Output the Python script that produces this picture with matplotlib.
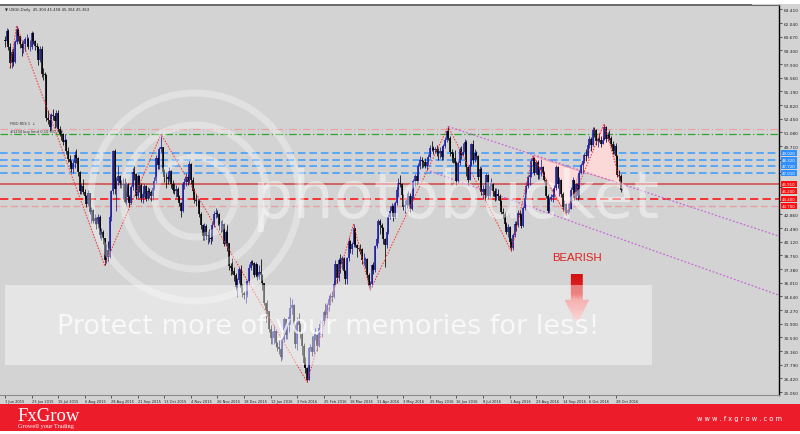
import numpy as np
import pandas as pd
import matplotlib
matplotlib.use("Agg")
import matplotlib.pyplot as plt
from matplotlib.patches import Rectangle, Circle, Polygon
from matplotlib.colors import LinearSegmentedColormap
import matplotlib.transforms as mtransforms

# USOil daily candles, 1 Jun 2015 .. 3 Nov 2016 (feed has a bar for every weekday except 1 Jan 2016)
first_open = 60.30
closes = [
    60.20, 61.26, 59.64, 58.00, 59.13, 58.14, 60.14, 61.43, 60.77, 59.96, 59.52, 59.97, 60.45, 60.45, 59.61, 59.68, 61.01, 60.27, 59.70, 59.63, 58.33, 59.47,
    56.96, 56.93, 56.80, 52.53, 52.33, 51.65, 52.78, 52.74, 52.20, 53.04, 51.41, 50.91, 50.89, 50.15, 50.36, 49.19, 48.45, 48.14, 47.39, 47.98, 48.79, 48.52, 47.12,
    45.17, 45.74, 45.15, 44.66, 43.87, 44.96, 43.08, 43.30, 42.23, 42.50, 41.87, 42.62, 40.80, 41.14, 40.45, 38.24, 39.31, 38.60, 42.56, 45.22, 49.20,
    45.41, 46.25, 46.75, 46.05, 45.80, 45.94, 44.15, 45.92, 44.63, 44.00, 45.59, 47.15, 46.90, 44.68, 46.68, 45.83, 44.48, 44.91, 45.70, 44.43, 45.23, 45.09,
    44.74, 45.54, 46.26, 48.53, 47.81, 49.43, 49.63, 47.10, 46.66, 46.64, 46.38, 47.26, 45.89, 45.29, 45.20, 45.38, 44.60, 43.98, 43.20, 45.94, 46.06, 46.59,
    46.14, 47.90, 46.32, 45.20, 44.29, 44.21, 44.21, 42.93, 41.75, 40.74, 41.74, 40.67, 40.75, 40.54, 40.39, 41.75, 42.87, 43.04, 42.90, 41.71, 41.65,
    41.85, 39.94, 41.08, 39.97, 37.65, 37.51, 37.16, 36.76, 35.62, 36.31, 37.35, 35.52, 34.95, 34.73, 34.74, 36.14, 37.50, 38.10, 38.00, 36.81, 37.87, 36.60, 37.04,
    36.76, 35.97, 33.97, 33.27, 33.16, 31.41, 30.44, 30.48, 31.20, 30.00, 29.60, 29.40, 28.60, 30.30, 32.40, 30.80, 31.80, 32.60, 33.50, 33.80,
    31.62, 29.88, 32.28, 31.72, 30.89, 29.69, 27.94, 27.45, 26.21, 29.44, 29.60, 29.04, 30.66, 30.77, 29.64, 31.48, 31.87, 32.15, 33.07, 32.78, 33.75,
    34.40, 34.66, 34.57, 35.92, 37.90, 36.50, 38.29, 37.84, 38.50, 37.18, 36.34, 38.46, 40.20, 39.44, 39.91, 41.45, 39.79, 39.46, 39.40, 39.39, 38.28, 38.32, 38.34,
    36.79, 35.70, 35.89, 37.75, 37.26, 39.72, 40.36, 42.17, 41.76, 41.50, 40.36, 39.78, 41.08, 42.63, 43.18, 43.73, 42.64, 44.04, 45.33, 46.03, 45.92,
    44.78, 43.65, 43.78, 44.32, 44.66, 43.44, 44.66, 46.23, 46.70, 46.21, 47.72, 48.31, 48.19, 48.16, 47.75, 48.08, 48.62, 49.56, 49.48, 49.33, 49.40, 49.10,
    49.01, 49.17, 48.62, 49.69, 50.36, 51.23, 50.56, 49.07, 48.88, 48.49, 48.01, 46.21, 47.98, 49.37, 48.85, 49.13, 50.11, 47.64, 46.33, 47.85, 49.88, 48.33,
    48.99, 48.70, 46.60, 47.43, 45.14, 45.41, 44.76, 46.80, 44.75, 45.68, 45.95, 45.24, 44.65, 44.94, 44.75, 44.19, 43.13, 42.92, 41.92, 41.14, 41.60,
    40.06, 39.51, 40.83, 41.93, 41.80, 43.02, 42.77, 41.71, 43.49, 44.49, 45.74, 46.58, 46.79, 48.22, 48.52, 47.05, 48.10, 46.77, 47.33, 47.64, 46.98, 46.35, 44.70,
    43.16, 44.44, 44.60, 44.83, 45.50, 47.62, 45.88, 46.29, 44.90, 43.58, 43.91, 43.03, 43.30, 43.44, 45.34, 46.32, 44.48, 45.93, 44.67, 47.05, 47.83, 48.24,
    48.81, 48.69, 49.83, 50.44, 49.81, 51.35, 51.29, 50.18, 50.44, 50.35, 49.94, 50.29, 51.60, 50.43, 50.85, 50.52, 49.96, 49.18, 49.72, 48.70, 46.86,
    46.67, 45.34, 45.36,
]
highs = [
    60.75, 61.6, 61.5, 60.0, 59.4, 59.5, 60.4, 61.8, 61.6, 60.8, 60.2, 60.3, 60.7, 61.0, 60.7, 60.4, 61.3, 61.2, 60.4, 60.0, 59.7, 59.7,
    59.7, 57.5, 57.1, 56.9, 53.3, 52.9, 53.0, 53.4, 52.9, 53.3, 53.3, 51.7, 51.3, 51.0, 50.9, 50.4, 49.6, 48.8, 48.3, 48.3, 49.2, 49.4, 48.6,
    47.2, 46.0, 46.4, 45.4, 44.8, 45.3, 45.0, 43.6, 43.4, 42.9, 42.6, 42.9, 42.8, 41.5, 41.3, 40.5, 39.9, 40.2, 42.8, 45.3, 49.3,
    49.4, 46.6, 47.7, 46.8, 46.3, 46.5, 46.5, 46.1, 46.0, 44.8, 45.8, 47.5, 47.7, 47.0, 46.9, 46.8, 46.0, 45.2, 45.9, 45.8, 45.6, 45.5,
    45.3, 45.7, 46.6, 48.8, 49.2, 49.6, 50.9, 49.6, 47.4, 47.0, 46.8, 47.6, 47.3, 46.3, 46.0, 45.8, 45.6, 44.8, 44.1, 46.1, 46.5, 47.0,
    46.9, 48.2, 48.0, 46.6, 45.5, 44.9, 44.5, 44.4, 43.1, 41.9, 42.0, 41.9, 41.2, 41.4, 41.0, 42.1, 43.2, 43.5, 43.3, 43.0, 42.2,
    42.3, 42.0, 41.3, 41.9, 40.0, 38.0, 38.5, 37.6, 37.0, 36.5, 37.6, 37.8, 35.9, 35.2, 35.2, 36.3, 37.9, 38.3, 38.3, 38.1, 38.1, 37.9, 37.8,
    38.4, 36.9, 36.0, 34.0, 34.3, 33.2, 31.8, 31.2, 31.8, 31.3, 30.1, 30.3, 29.5, 30.6, 32.6, 32.4, 32.1, 32.9, 34.6, 34.4,
    33.9, 31.9, 32.6, 33.0, 32.0, 31.2, 30.0, 28.6, 27.6, 29.5, 29.9, 30.7, 31.0, 31.5, 30.9, 31.6, 32.4, 32.4, 33.3, 34.0, 34.0,
    34.8, 35.0, 35.2, 36.2, 38.3, 37.9, 38.5, 38.9, 38.7, 38.6, 37.3, 38.6, 40.6, 40.3, 40.1, 41.9, 41.5, 39.9, 39.6, 39.9, 39.5, 39.0, 38.6,
    38.5, 37.0, 36.2, 37.9, 38.1, 39.8, 40.6, 42.4, 42.4, 42.0, 41.6, 40.5, 41.4, 42.9, 43.7, 44.0, 43.8, 44.2, 45.5, 46.5, 46.8,
    46.0, 44.9, 44.3, 45.0, 45.2, 45.0, 44.8, 46.4, 46.9, 47.0, 48.0, 48.7, 48.6, 48.3, 48.5, 48.2, 48.9, 49.8, 50.2, 49.7, 49.6, 49.8,
    49.5, 49.6, 49.7, 49.9, 50.6, 51.3, 51.67, 50.7, 49.4, 49.1, 49.3, 48.2, 48.2, 49.6, 49.7, 50.0, 50.4, 50.3, 47.7, 48.1, 50.0, 50.3,
    49.4, 49.2, 48.8, 47.7, 47.6, 45.8, 45.6, 47.0, 46.9, 46.1, 46.5, 46.0, 45.5, 45.5, 45.4, 44.9, 44.3, 43.5, 43.1, 42.1, 41.9,
    41.7, 40.5, 41.0, 42.2, 42.2, 43.3, 43.3, 43.0, 43.7, 44.7, 46.0, 46.8, 47.1, 48.5, 48.75, 48.6, 48.3, 48.3, 47.6, 48.4, 47.7, 47.2, 46.4,
    44.9, 44.6, 44.9, 45.5, 45.8, 47.8, 47.7, 46.6, 46.4, 45.1, 44.3, 44.0, 44.0, 44.0, 45.6, 46.6, 46.3, 46.0, 46.0, 47.3, 48.0, 48.3,
    49.0, 49.4, 50.0, 50.7, 50.6, 51.6, 51.6, 51.4, 50.6, 51.0, 50.7, 50.7, 51.93, 51.7, 51.1, 51.3, 50.7, 50.2, 49.9, 50.0, 48.8,
    47.3, 46.9, 45.46,
]
lows = [
    59.6, 59.9, 59.3, 57.5, 57.5, 57.7, 58.0, 59.9, 60.2, 59.5, 58.7, 59.0, 59.2, 59.8, 59.4, 59.2, 59.4, 59.9, 59.3, 59.0, 57.8, 58.1,
    56.6, 56.3, 56.4, 52.2, 51.9, 51.2, 51.3, 52.3, 51.5, 51.6, 51.2, 50.7, 50.3, 49.8, 49.9, 48.9, 48.1, 47.8, 47.1, 47.0, 47.5, 48.0, 46.7,
    44.9, 44.9, 44.9, 44.4, 43.6, 43.7, 42.9, 42.0, 42.0, 41.9, 41.4, 41.5, 40.5, 40.3, 39.9, 37.75, 38.0, 38.2, 38.5, 42.2, 44.9,
    44.9, 43.2, 45.8, 45.5, 45.5, 44.4, 44.0, 43.8, 44.2, 43.6, 43.9, 45.3, 46.3, 44.4, 44.5, 45.1, 44.1, 44.0, 44.6, 44.2, 44.3, 44.5,
    44.2, 44.3, 45.3, 46.0, 47.4, 47.4, 49.1, 46.8, 46.1, 45.5, 45.9, 46.2, 45.5, 45.0, 44.9, 44.6, 44.3, 43.7, 42.6, 43.1, 45.4, 45.7,
    45.8, 46.0, 45.9, 44.9, 44.0, 43.7, 43.6, 42.6, 41.4, 40.3, 40.3, 40.4, 39.9, 40.1, 39.9, 40.2, 41.6, 42.5, 42.6, 41.3, 41.1,
    41.2, 39.7, 39.7, 39.2, 37.3, 36.8, 36.9, 36.2, 35.3, 34.6, 36.0, 35.3, 34.6, 34.4, 33.98, 34.6, 36.0, 37.3, 37.8, 36.6, 36.6, 36.3, 36.4,
    36.3, 35.3, 33.8, 32.1, 32.7, 31.1, 29.9, 29.9, 29.9, 29.6, 29.2, 28.9, 28.2, 28.4, 30.1, 30.4, 30.4, 31.1, 31.9, 32.9,
    31.3, 29.5, 29.3, 31.2, 30.5, 28.8, 27.6, 27.0, 26.05, 26.4, 29.2, 28.7, 28.9, 30.3, 29.2, 29.6, 30.9, 30.6, 31.9, 32.5, 32.5,
    33.2, 33.8, 34.1, 34.5, 35.8, 36.0, 36.2, 37.0, 37.4, 36.9, 35.9, 35.9, 38.2, 39.0, 38.9, 39.6, 39.6, 38.6, 39.2, 38.9, 37.9, 37.8, 37.5,
    36.5, 35.5, 35.24, 35.6, 36.9, 37.1, 39.5, 40.0, 40.9, 41.0, 39.9, 37.6, 39.5, 40.9, 42.4, 42.8, 42.2, 42.5, 43.8, 44.6, 45.6,
    44.5, 43.3, 43.0, 43.5, 43.8, 43.1, 43.3, 44.5, 45.7, 45.8, 46.0, 47.4, 47.5, 47.6, 47.5, 47.3, 47.8, 48.5, 49.2, 48.9, 49.0, 48.7,
    48.3, 48.5, 48.3, 48.3, 49.5, 50.1, 50.3, 48.7, 48.1, 48.0, 47.8, 45.8, 46.0, 47.8, 48.4, 48.7, 48.9, 46.7, 45.8, 46.3, 47.7, 47.9,
    48.1, 48.4, 46.3, 45.8, 44.8, 44.4, 44.3, 44.6, 44.4, 44.6, 45.3, 44.7, 44.2, 44.3, 44.3, 43.8, 42.9, 42.5, 41.6, 40.9, 40.6,
    39.9, 39.19, 39.3, 40.6, 41.2, 41.6, 42.3, 41.5, 41.6, 43.3, 44.4, 45.5, 45.8, 46.6, 47.8, 46.8, 46.9, 46.4, 46.4, 46.7, 46.6, 46.1, 44.5,
    43.0, 43.0, 44.2, 44.1, 44.6, 45.3, 45.5, 44.7, 44.6, 43.2, 43.3, 42.8, 42.9, 43.1, 43.4, 45.2, 44.3, 44.3, 44.3, 44.5, 46.9, 47.0,
    48.0, 48.2, 48.5, 49.5, 49.2, 49.7, 50.6, 49.8, 49.6, 50.1, 49.6, 49.9, 50.3, 50.1, 50.2, 50.3, 49.6, 48.9, 48.9, 48.4, 46.6,
    46.2, 45.1, 45.30,
]

x_labels = ["1 Jun 2015", "23 Jun 2015", "15 Jul 2015", "6 Aug 2015", "28 Aug 2015", "21 Sep 2015",
            "13 Oct 2015", "4 Nov 2015", "26 Nov 2015", "18 Dec 2015", "12 Jan 2016", "3 Feb 2016",
            "25 Feb 2016", "18 Mar 2016", "11 Apr 2016", "3 May 2016", "25 May 2016", "16 Jun 2016",
            "8 Jul 2016", "1 Aug 2016", "23 Aug 2016", "14 Sep 2016", "6 Oct 2016", "28 Oct 2016"]
y_ticks = [25.05, 26.42, 27.79, 29.16, 30.53, 31.90, 33.27, 34.64, 36.01, 37.38, 38.75, 40.12, 41.49,
           42.86, 44.23, 45.60, 46.97, 48.34, 49.71, 51.08, 52.45, 53.82, 55.19, 56.56, 57.93, 59.30,
           60.67, 62.04, 63.41]

# zigzag pivots (bar index, 'H' = high / 'L' = low / 'C' = close)
zz_bars = [3, 7, 60, 94, 182, 210, 220, 267, 305, 318, 338, 361, 372]
zz_kind = ["L", "H", "L", "H", "L", "H", "L", "H", "L", "H", "L", "H", "C"]

# harmonic pattern points
pat_bars = [318, 338, 346, 361, 372]
pat_prices = [48.75, 42.8, 47.2, 51.93, 45.9]

# trend lines
trend_up_bars, trend_up_prices = [267, 466], [51.67, 40.69]
trend_lo_bars, trend_lo_prices = [256, 466], [47.2, 34.78]

# horizontal levels
fibo_prices = [51.43, 50.92]
blue_levels = [49.02, 48.32, 47.72, 47.01]
red_levels = [45.91, 45.20, 44.40, 43.70]
red_solid = 45.91
red_dash = 44.40
pink_dash = 43.70

bear_bar, bear_text_price = 344.5, 38.6
arrow_top, arrow_neck, arrow_tip = 36.9, 34.3, 31.8

BG = "#d3d3d3"
BULL = "#1c1c9c"
BEAR = "#000000"

dates = pd.bdate_range("2015-06-01", "2016-11-03")
dates = dates[dates != pd.Timestamp("2016-01-01")]

o = np.array([first_open] + closes[:-1])
c = np.array(closes)
h = np.maximum(np.array(highs), np.maximum(o, c))
l = np.minimum(np.array(lows), np.minimum(o, c))
xs = np.arange(len(c))

fig = plt.figure(figsize=(8, 4.35), dpi=100)
fig.patch.set_facecolor(BG)
ax = fig.add_axes([0, 39 / 435, 779 / 800, 390 / 435])
ax.set_facecolor(BG)
ax.set_zorder(1)

# horizontal levels
ax.axhline(fibo_prices[0], color="#e6a4a8", lw=0.9, ls=(0, (6, 2, 1, 2)), zorder=1)
ax.axhline(fibo_prices[1], color="#2ca52c", lw=0.9, ls=(0, (6, 2, 1, 2)), zorder=1)
for p in blue_levels:
    ax.axhline(p, color="#3a9bff", lw=1.1, ls=(0, (5, 2.5)), zorder=1)
ax.axhline(red_solid, color="#cf6262", lw=1.4, zorder=1)
ax.axhline(red_dash, color="#ff1818", lw=1.2, ls=(0, (5, 2.5)), zorder=1)
ax.axhline(pink_dash, color="#e7a0a0", lw=1.0, ls=(0, (5, 2.5)), zorder=1)
ax.text(3, fibo_prices[0] + 0.35, "FIBO RES 1  \u2193", fontsize=2.6, color="#333333", va="bottom")
ax.text(3, fibo_prices[1] + 0.1, "#1234 buy limit 0.10 (50.92)", fontsize=2.6, color="#333333", va="bottom")

# harmonic pattern fills
tri1 = [(pat_bars[i], pat_prices[i]) for i in (0, 1, 2)]
tri2 = [(pat_bars[i], pat_prices[i]) for i in (2, 3, 4)]
for tri in (tri1, tri2):
    ax.add_patch(Polygon(tri, closed=True, fc="#fbd9d9", ec="#f0a0a0", lw=0.6, zorder=1.5))

# trend lines
ax.plot(trend_up_bars, trend_up_prices, color="#c86ad8", lw=0.9, ls=(0, (1.5, 1.5)), zorder=2)
ax.plot(trend_lo_bars, trend_lo_prices, color="#c86ad8", lw=0.9, ls=(0, (1.5, 1.5)), zorder=2)

# candles
up = c >= o
ax.vlines(xs[up], l[up], h[up], color=BULL, lw=0.55, zorder=3)
ax.vlines(xs[~up], l[~up], h[~up], color=BEAR, lw=0.55, zorder=3)
ax.vlines(xs[up], o[up], c[up], color=BULL, lw=1.15, zorder=3)
ax.vlines(xs[~up], o[~up], c[~up], color=BEAR, lw=1.15, zorder=3)

# zigzag
zz_y = [h[b] if k == "H" else (l[b] if k == "L" else c[b]) for b, k in zip(zz_bars, zz_kind)]
ax.plot(zz_bars, zz_y, color="#ff2a2a", lw=0.7, ls=(0, (1.5, 1.5)), zorder=4)

# bearish label and arrow
ax.text(bear_bar, bear_text_price, "BEARISH", color="#e0201f", fontsize=8.2,
        family="Liberation Sans", ha="center", va="center", zorder=5)
sw, hw = 3.6, 7.4
arrow_pts = [(bear_bar - sw, arrow_top), (bear_bar + sw, arrow_top), (bear_bar + sw, arrow_neck),
             (bear_bar + hw, arrow_neck), (bear_bar, arrow_tip), (bear_bar - hw, arrow_neck),
             (bear_bar - sw, arrow_neck)]
clip = Polygon(arrow_pts, closed=True, fc="none", ec="none")
ax.add_patch(clip)
cmap = LinearSegmentedColormap.from_list("arr", [(0, "#d41010"), (0.4, "#e32a2a"), (0.5, "#ee7878"), (1, "#f8c6c6")])
im = ax.imshow(np.linspace(0, 1, 200).reshape(-1, 1), cmap=cmap, aspect="auto", origin="upper",
               extent=[bear_bar - hw, bear_bar + hw, arrow_tip, arrow_top], zorder=5)
im.set_clip_path(clip)

ax.set_xlim(-3.01, 466.3)
ax.set_ylim(24.75, 63.86)

# axes styling
for s in ("left", "top"):
    ax.spines[s].set_visible(False)
ax.spines["right"].set_color("#000000")
ax.spines["right"].set_linewidth(1.0)
ax.spines["bottom"].set_color("#8a8a8a")
ax.spines["bottom"].set_linewidth(0.8)
ax.yaxis.tick_right()
ax.set_yticks(y_ticks)
box_prices = blue_levels + red_levels
# tick labels that sit under a level box are hidden by that box on the chart
ax.set_yticklabels(["" if min(abs(v - b) for b in box_prices) < 0.45 else f"{v:.3f}" for v in y_ticks])
ax.tick_params(axis="y", length=2.2, width=0.5, labelsize=3.1, pad=1, colors="#222222")
xpos = [dates.get_loc(pd.Timestamp(pd.to_datetime(s, format="%d %b %Y"))) for s in x_labels]
ax.set_xticks(xpos)
ax.set_xticklabels(x_labels)
ax.tick_params(axis="x", length=2.0, width=0.5, labelsize=2.6, pad=0.8, colors="#222222")
for t in ax.get_xticklabels():
    t.set_ha("left")

# right-hand price boxes of the levels
tr = mtransforms.blended_transform_factory(ax.transAxes, ax.transData)
for p in blue_levels:
    ax.text(1.004, p, f"{p:.3f}", transform=tr, fontsize=2.8, color="white", va="center", ha="left",
            bbox=dict(boxstyle="square,pad=0.3", fc="#2f8fff", ec="none"), clip_on=False, zorder=6)
for p in red_levels:
    ax.text(1.004, p, f"{p:.3f}", transform=tr, fontsize=2.8, color="white", va="center", ha="left",
            bbox=dict(boxstyle="square,pad=0.3", fc="#ff1010", ec="none"), clip_on=False, zorder=6)

# overlay in pixel coordinates: frame, watermark, banner
ov = fig.add_axes([0, 0, 1, 1])
ov.set_xlim(0, 800)
ov.set_ylim(435, 0)
ov.axis("off")
ov.set_zorder(5)
ov.patch.set_alpha(0)

ov.add_patch(Rectangle((0, 0), 800, 4.5, fc="white", ec="none"))
ov.add_patch(Rectangle((0, 4.5), 752, 2.5, fc="#6c6c6c", ec="none"))
ov.plot([752, 779], [5.8, 5.8], color="#6c6c6c", lw=0.8)
ov.text(5, 10, "\u25bc USOil,Daily  45.304 45.458 45.304 45.363", fontsize=2.7, color="#222222", va="center")

for r in (40, 72, 104):
    ov.add_patch(Circle((195, 198), r, fc="none", ec="white", lw=5, alpha=0.33))
ov.text(455, 200, "photobucket", fontsize=47, color="white", alpha=0.45, ha="center", va="center")
ov.add_patch(Rectangle((5, 286), 647, 80, fc="white", ec="none", alpha=0.42))
ov.text(328, 327, "Protect more of your memories for less!", fontsize=19.5, color="white",
        alpha=0.75, ha="center", va="center")

ov.add_patch(Rectangle((0, 405), 800, 26.5, fc="#ed1c2a", ec="none"))
ov.add_patch(Rectangle((0, 431.5), 800, 3.5, fc="white", ec="none"))
ov.text(17, 417, "FxGrow", fontsize=13.5, family="Liberation Serif", color="white", va="center", ha="left")
ov.text(18, 427, "Growell your Trading", fontsize=4.6, family="Liberation Serif", color="white", va="center", ha="left")
ov.text(782, 419, "w w w . f x g r o w . c o m", fontsize=4.8, color="white", va="center", ha="right")

fig.savefig("out.png", dpi=100, facecolor=fig.get_facecolor())
